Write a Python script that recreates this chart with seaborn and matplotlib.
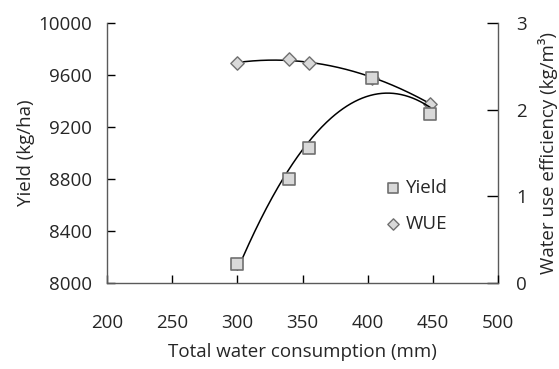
import numpy as np
import pandas as pd
import matplotlib
matplotlib.use("Agg")
import matplotlib.pyplot as plt
import seaborn as sns

# Data
water = [300, 340, 355, 403, 448]
yield_kg = [8150, 8800, 9040, 9575, 9300]
wue = [2.54, 2.58, 2.54, 2.37, 2.07]

sns.set_style("ticks")
plt.rcParams['font.family'] = ['Open Sans', 'DejaVu Sans']

fig = plt.figure(figsize=(5.59, 3.69), dpi=100)
ax = fig.add_axes([0.1914, 0.233, 0.891 - 0.1914, 0.9377 - 0.233])
ax2 = ax.twinx()

df = pd.DataFrame({"water": water, "yield": yield_kg, "wue": wue})

# quadratic trend lines
xs = np.linspace(min(water), max(water), 200)
cy = np.polyfit(water, yield_kg, 2)
cw = np.polyfit(water, wue, 2)
fit = pd.DataFrame({"x": xs, "y": np.polyval(cy, xs), "w": np.polyval(cw, xs)})

sns.lineplot(data=fit, x="x", y="y", ax=ax, color="black", lw=1.1, zorder=2)
sns.lineplot(data=fit, x="x", y="w", ax=ax2, color="black", lw=1.1, zorder=2)

sns.scatterplot(data=df, x="water", y="yield", ax=ax, marker="s", s=70,
                color="#d9d9d9", edgecolor="#707070", linewidth=1.2, zorder=3, label="Yield")
sns.scatterplot(data=df, x="water", y="wue", ax=ax2, marker="D", s=46,
                color="#d9d9d9", edgecolor="#707070", linewidth=1.0, zorder=3, label="WUE")

ax.set_xlim(200, 500)
ax.set_ylim(8000, 10000)
ax2.set_ylim(0, 3)
ax.set_xticks([200, 250, 300, 350, 400, 450, 500])
ax.set_yticks([8000, 8400, 8800, 9200, 9600, 10000])
ax2.set_yticks([0, 1, 2, 3])

tfs = 13.5
lfs = 13.5
spc = "#5a5a5a"
for a in (ax, ax2):
    for s in a.spines.values():
        s.set_color(spc)
        s.set_linewidth(1.0)
    a.spines['top'].set_visible(False)
ax.spines['right'].set_visible(False)
ax2.spines['left'].set_visible(False)
ax2.spines['bottom'].set_visible(False)

ax.tick_params(axis='x', direction='in', length=6, width=1, color="black", pad=22, labelsize=tfs)
ax.tick_params(axis='y', direction='in', length=6, width=1, color="black", pad=11, labelsize=tfs)
ax2.tick_params(axis='y', direction='in', length=8, width=1, color="black", pad=13, labelsize=tfs)

ax.set_xlabel("Total water consumption (mm)", fontsize=lfs, labelpad=8)
ax.set_ylabel("Yield (kg/ha)", fontsize=lfs, labelpad=2)
ax2.set_ylabel("Water use efficiency (kg/m³)", fontsize=lfs, labelpad=8)

h1, l1 = ax.get_legend_handles_labels()
h2, l2 = ax2.get_legend_handles_labels()
if ax2.get_legend():
    ax2.get_legend().remove()
ax.legend(h1 + h2, l1 + l2, loc="upper left", bbox_to_anchor=(0.713, 0.40),
          frameon=False, fontsize=tfs, markerscale=0.85, handlelength=0.8,
          handletextpad=0.25, labelspacing=0.95, borderpad=0, borderaxespad=0)
ax.set_zorder(ax2.get_zorder() + 1)
ax.patch.set_visible(False)

fig.savefig("out.png", dpi=100)
